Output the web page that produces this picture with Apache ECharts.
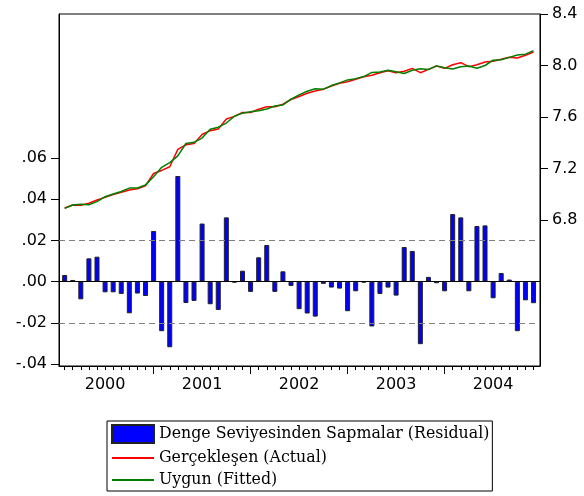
<!DOCTYPE html>
<html>
<head>
<meta charset="utf-8">
<script src="https://cdn.jsdelivr.net/npm/echarts@6/dist/echarts.min.js"></script>
<style>
  html, body { margin: 0; padding: 0; background: #fff; }
  #chart { width: 584px; height: 496px; }
</style>
</head>
<body>
<div id="chart"></div>
<script>
// Monthly observations, 2000M02 - 2004M12
const periods = [
  '2000M02','2000M03','2000M04','2000M05','2000M06','2000M07','2000M08','2000M09','2000M10','2000M11','2000M12',
  '2001M01','2001M02','2001M03','2001M04','2001M05','2001M06','2001M07','2001M08','2001M09','2001M10','2001M11','2001M12',
  '2002M01','2002M02','2002M03','2002M04','2002M05','2002M06','2002M07','2002M08','2002M09','2002M10','2002M11','2002M12',
  '2003M01','2003M02','2003M03','2003M04','2003M05','2003M06','2003M07','2003M08','2003M09','2003M10','2003M11','2003M12',
  '2004M01','2004M02','2004M03','2004M04','2004M05','2004M06','2004M07','2004M08','2004M09','2004M10','2004M11','2004M12'
];

// Residuals (left axis)
const residual = [
  0.0032, 0.0008, -0.0086, 0.0113, 0.0121, -0.0052, -0.0052, -0.0060, -0.0154, -0.0058, -0.0070,
  0.0246, -0.0241, -0.0319, 0.0513, -0.0104, -0.0094, 0.0282, -0.0110, -0.0138, 0.0312, -0.0005, 0.0053,
  -0.0050, 0.0118, 0.0178, -0.0050, 0.0050, -0.0021, -0.0134, -0.0155, -0.0170, -0.0011, -0.0029, -0.0034,
  -0.0144, -0.0047, -0.0005, -0.0218, -0.0060, -0.0029, -0.0068, 0.0168, 0.0149, -0.0304, 0.0023, -0.0008,
  -0.0047, 0.0328, 0.0312, -0.0047, 0.0270, 0.0273, -0.0081, 0.0042, 0.0010, -0.0241, -0.0091, -0.0105
];

// Actual series (right axis)
const actual = [
  6.893, 6.917, 6.914, 6.930, 6.955, 6.976, 6.997, 7.015, 7.033, 7.043, 7.066,
  7.161, 7.185, 7.214, 7.349, 7.384, 7.394, 7.464, 7.494, 7.507, 7.584, 7.605, 7.635,
  7.635, 7.660, 7.680, 7.680, 7.699, 7.736, 7.759, 7.784, 7.802, 7.815, 7.841, 7.862,
  7.874, 7.893, 7.913, 7.924, 7.944, 7.960, 7.944, 7.955, 7.978, 7.944, 7.970, 7.996,
  7.978, 8.006, 8.022, 7.991, 8.006, 8.027, 8.033, 8.048, 8.064, 8.058, 8.079, 8.105
];

// Fitted series (right axis)
const fitted = [
  6.890, 6.916, 6.923, 6.919, 6.943, 6.981, 7.002, 7.021, 7.048, 7.049, 7.073,
  7.136, 7.209, 7.246, 7.298, 7.394, 7.403, 7.436, 7.505, 7.521, 7.553, 7.606, 7.630,
  7.640, 7.648, 7.662, 7.685, 7.694, 7.738, 7.772, 7.800, 7.819, 7.816, 7.844, 7.865,
  7.888, 7.898, 7.914, 7.946, 7.950, 7.963, 7.951, 7.938, 7.963, 7.974, 7.968, 7.997,
  7.983, 7.973, 7.991, 7.996, 7.979, 8.000, 8.041, 8.044, 8.063, 8.082, 8.088, 8.116
];

// Residual standard error band
const stdErr = 0.0172;

const leftTicks = [-0.04, -0.02, 0.00, 0.02, 0.04, 0.06];
const rightTicks = [6.8, 7.2, 7.6, 8.0, 8.4];

const seriesNames = [
  'Denge Seviyesinden Sapmalar (Residual)',
  'Gerçekleşen (Actual)',
  'Uygun (Fitted)'
];

// Axis tick positions derived from the period list
const idx = periods.map((p, i) => i);
const yearStarts = idx.filter(i => periods[i].endsWith('M01'));
const yearMids = idx.filter(i => periods[i].endsWith('M07'));

const pairs = arr => arr.map((v, i) => [i, v]);

const sansFont = '"DejaVu Sans", Arial, sans-serif';
const serifFont = '"DejaVu Serif", "Times New Roman", serif';

const xRange = { min: -0.7, max: periods.length - 0.2 };

const chart = echarts.init(document.getElementById('chart'), null, { renderer: 'canvas' });

chart.setOption({
  animation: false,
  backgroundColor: '#ffffff',
  grid: {
    left: 59, right: 44, top: 14, bottom: 130,
    show: true, borderColor: '#000', borderWidth: 1, backgroundColor: 'transparent'
  },
  legend: {
    orient: 'vertical',
    left: 107, top: 421,
    padding: [3, 3, 3, 4],
    itemGap: 6,
    itemWidth: 42,
    itemHeight: 18,
    borderColor: '#000',
    borderWidth: 1,
    textStyle: { fontFamily: serifFont, fontSize: 15.8, color: '#000' },
    data: [
      { name: seriesNames[0], icon: 'rect' },
      { name: seriesNames[1], itemStyle: { opacity: 0 } },
      { name: seriesNames[2], itemStyle: { opacity: 0 } }
    ]
  },
  xAxis: [
    {
      type: 'value', ...xRange, position: 'bottom',
      axisLine: { show: true, onZero: false, lineStyle: { color: '#000', width: 1 } },
      axisTick: { show: true, inside: false, length: 4, customValues: idx, lineStyle: { color: '#000' } },
      axisLabel: { show: false },
      splitLine: { show: false }
    },
    {
      type: 'value', ...xRange, position: 'bottom',
      axisLine: { show: false, onZero: false },
      axisTick: { show: true, inside: false, length: 8, customValues: yearStarts, lineStyle: { color: '#000' } },
      axisLabel: {
        show: true, margin: 11, customValues: yearMids,
        fontFamily: sansFont, fontSize: 16, color: '#000',
        formatter: v => periods[Math.round(v)].slice(0, 4)
      },
      splitLine: { show: false }
    }
  ],
  yAxis: [
    {
      type: 'value', position: 'left', min: -0.041, max: 0.130,
      axisLine: { show: true, onZero: false, lineStyle: { color: '#000', width: 1 } },
      axisTick: { show: true, inside: false, length: 8, customValues: leftTicks, lineStyle: { color: '#000' } },
      axisLabel: {
        show: true, margin: 12, customValues: leftTicks,
        fontFamily: sansFont, fontSize: 16, color: '#000',
        formatter: v => v.toFixed(2).replace('0.', '.')
      },
      splitLine: { show: false }
    },
    {
      type: 'value', position: 'right', min: 5.666, max: 8.4,
      axisLine: { show: true, onZero: false, lineStyle: { color: '#000', width: 1 } },
      axisTick: { show: true, inside: false, length: 8, customValues: rightTicks, lineStyle: { color: '#000' } },
      axisLabel: {
        show: true, margin: 12, customValues: rightTicks,
        fontFamily: sansFont, fontSize: 16, color: '#000',
        formatter: v => v.toFixed(1)
      },
      splitLine: { show: false }
    }
  ],
  series: [
    {
      name: seriesNames[0],
      type: 'bar',
      xAxisIndex: 0, yAxisIndex: 0,
      barWidth: 5,
      data: pairs(residual),
      itemStyle: { color: '#0000ff', borderColor: '#222', borderWidth: 1 },
      markLine: {
        silent: true,
        symbol: 'none',
        label: { show: false },
        data: [
          { yAxis: 0, lineStyle: { color: '#000', type: 'solid', width: 1 } },
          { yAxis: stdErr, lineStyle: { color: '#808080', type: [6, 4], width: 1 } },
          { yAxis: -stdErr, lineStyle: { color: '#808080', type: [6, 4], width: 1 } }
        ]
      }
    },
    {
      name: seriesNames[1],
      type: 'line',
      xAxisIndex: 0, yAxisIndex: 1,
      data: pairs(actual),
      showSymbol: false, symbol: 'none',
      lineStyle: { color: '#ff0000', width: 1.5 },
      itemStyle: { color: '#ff0000' }
    },
    {
      name: seriesNames[2],
      type: 'line',
      xAxisIndex: 0, yAxisIndex: 1,
      data: pairs(fitted),
      showSymbol: false, symbol: 'none',
      lineStyle: { color: '#008000', width: 1.5 },
      itemStyle: { color: '#008000' }
    }
  ]
});
</script>
</body>
</html>
